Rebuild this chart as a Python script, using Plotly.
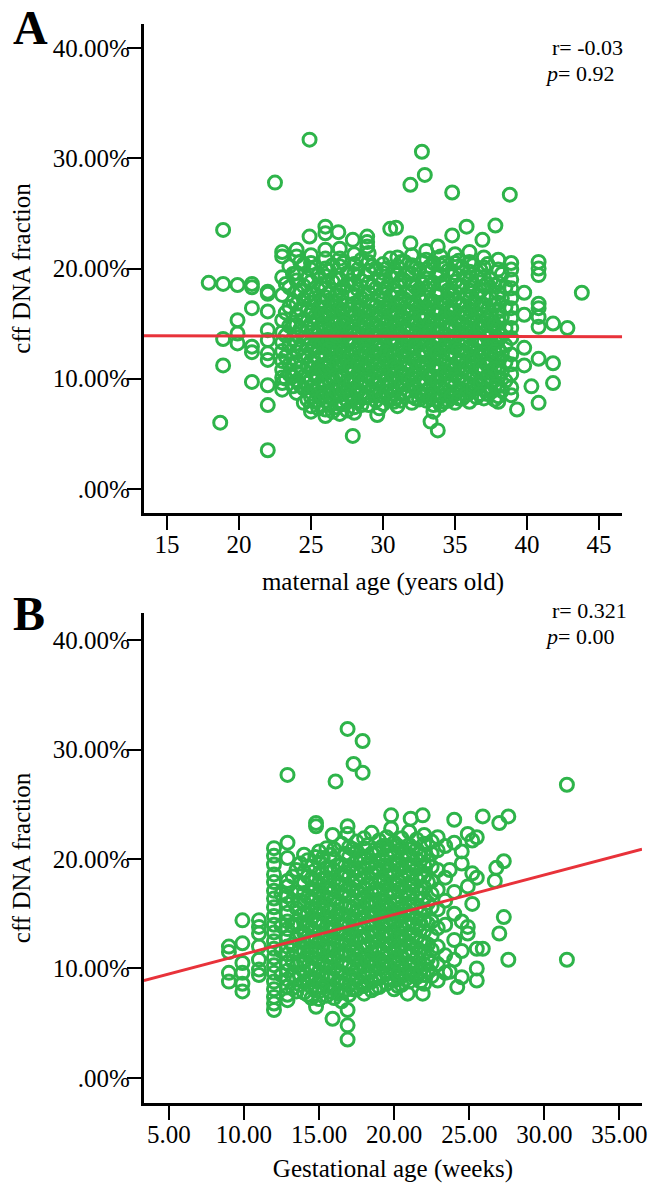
import plotly.graph_objects as go

# ---------------- Panel A: maternal age vs cff DNA fraction (%) ----------------
maternal_age = [17.9, 18.7, 18.9, 19.9, 20.9, 22.0, 22.5, 23.0, 23.5, 24.0, 24.5, 24.9, 25.0, 25.5,
                26.0, 26.5, 26.9, 27.0, 27.5, 27.9, 28.0, 28.5, 28.9, 29.0, 29.5, 29.6, 30.0, 30.5,
                30.9, 31.0, 31.5, 31.9, 32.0, 32.5, 32.7, 32.9, 33.0, 33.3, 33.5, 33.8, 34.0, 34.5,
                34.8, 35.0, 35.5, 35.8, 36.0, 36.5, 36.9, 37.0, 37.5, 37.8, 38.0, 38.5, 38.8, 38.9,
                39.3, 39.8, 40.3, 40.8, 41.8, 42.8, 43.8]
cff_at_age = [
    [18.7], [6.0], [23.5, 18.6, 13.6, 11.2], [18.5, 15.3, 14.1, 13.2],
    [18.6, 18.3, 16.4, 12.9, 12.4, 9.7],
    [17.9, 17.7, 16.1, 14.4, 13.5, 12.3, 11.7, 9.4, 7.6, 3.5],
    [27.8],
    [21.5, 21.1, 19.2, 17.6, 15.3, 14.2, 13.3, 12.5, 11.6, 10.8, 10.1, 9.6, 9.0],
    [20.2, 18.3, 16.5, 14.8, 13.0, 11.3, 10.4],
    [21.7, 21.1, 19.6, 18.9, 17.9, 16.8, 15.8, 14.9, 14.0, 13.2, 12.4, 11.5, 10.6, 9.8, 8.7],
    [20.4, 18.4, 17.2, 15.4, 13.7, 12.0, 10.2, 9.1, 7.8],
    [31.7, 22.9],
    [21.2, 20.5, 19.9, 18.8, 17.7, 16.9, 16.0, 15.0, 14.2, 13.3, 12.5, 11.6, 10.9, 10.0, 9.2, 8.3, 7.5, 7.0],
    [19.4, 18.1, 16.4, 15.3, 14.5, 13.6, 12.8, 11.9, 11.0, 10.2, 9.4, 8.6, 7.3],
    [23.8, 23.2, 21.7, 20.9, 20.0, 19.3, 18.2, 17.4, 16.5, 15.7, 14.8, 13.9, 13.1, 12.2, 11.3, 10.5, 9.6, 8.8, 8.0, 7.2, 6.6],
    [20.3, 18.8, 17.0, 16.1, 15.2, 14.4, 13.5, 12.6, 11.8, 10.9, 10.0, 9.1, 8.2, 7.0],
    [23.3],
    [21.8, 20.9, 20.2, 19.0, 18.0, 17.1, 16.3, 15.4, 14.6, 13.7, 12.9, 12.0, 11.1, 10.3, 9.4, 8.5, 7.7, 6.8],
    [19.6, 18.5, 16.7, 15.9, 15.0, 14.1, 13.3, 12.4, 11.5, 10.7, 9.8, 8.9, 8.0, 7.1],
    [22.6, 4.8],
    [21.3, 20.4, 19.5, 18.6, 17.6, 16.8, 15.9, 15.1, 14.2, 13.4, 12.6, 11.7, 10.8, 10.0, 9.1, 8.2, 7.4, 6.9],
    [20.8, 18.9, 17.3, 16.4, 15.6, 14.7, 13.8, 13.0, 12.1, 11.3, 10.4, 9.6, 8.7, 7.6],
    [22.9, 22.4, 22.0],
    [21.4, 20.6, 19.8, 18.7, 17.8, 17.0, 16.1, 15.3, 14.4, 13.6, 12.7, 11.9, 11.0, 10.2, 9.3, 8.4, 7.6],
    [20.0, 18.2, 16.6, 15.7, 14.9, 14.0, 13.2, 12.3, 11.4, 10.6, 9.7, 8.8, 8.0],
    [6.7],
    [20.4, 19.6, 18.8, 17.9, 17.1, 16.2, 15.4, 14.5, 13.7, 12.8, 12.0, 11.1, 10.3, 9.4, 8.5, 7.7],
    [23.6, 20.9, 19.2, 17.5, 16.6, 15.8, 14.9, 14.1, 13.2, 12.4, 11.5, 10.7, 9.8, 8.9, 8.1],
    [23.7],
    [21.0, 20.2, 19.4, 18.5, 17.7, 16.8, 16.0, 15.1, 14.3, 13.4, 12.6, 11.7, 10.9, 10.0, 9.2, 8.3, 7.5],
    [20.6, 18.9, 17.2, 16.4, 15.5, 14.7, 13.8, 13.0, 12.1, 11.3, 10.4, 9.5, 8.7],
    [27.6, 22.3],
    [21.2, 20.3, 19.5, 18.6, 17.8, 16.9, 16.1, 15.2, 14.4, 13.5, 12.7, 11.8, 11.0, 10.1, 9.3, 8.4, 7.8],
    [19.9, 18.1, 17.4, 16.5, 15.7, 14.8, 14.0, 13.1, 12.2, 11.4, 10.5, 9.7, 8.8, 8.1],
    [30.6], [28.5],
    [21.6, 20.8, 19.9, 19.1, 18.2, 17.4, 16.5, 15.7, 14.8, 14.0, 13.1, 12.3, 11.4, 10.6, 9.7, 8.9, 8.0],
    [6.1],
    [20.5, 18.7, 17.0, 16.2, 15.3, 14.5, 13.6, 12.8, 11.9, 11.1, 10.2, 9.4, 8.5, 7.6, 7.0],
    [22.0, 5.3],
    [21.1, 20.3, 19.4, 18.6, 17.7, 16.9, 16.0, 15.2, 14.3, 13.5, 12.6, 11.8, 10.9, 10.1, 9.2, 8.4, 7.6],
    [19.8, 18.0, 17.3, 16.4, 15.6, 14.7, 13.9, 13.0, 12.2, 11.3, 10.5, 9.6, 8.8, 8.0],
    [26.9, 23.0],
    [21.3, 20.5, 19.6, 18.8, 17.9, 17.1, 16.2, 15.4, 14.5, 13.7, 12.8, 12.0, 11.1, 10.3, 9.4, 8.6, 7.8],
    [20.1, 18.4, 16.7, 15.9, 15.0, 14.2, 13.3, 12.5, 11.6, 10.8, 9.9, 9.0, 8.2],
    [23.8],
    [21.5, 20.6, 19.7, 18.9, 18.0, 17.2, 16.3, 15.5, 14.6, 13.8, 12.9, 12.1, 11.2, 10.4, 9.5, 8.7, 7.9],
    [19.3, 17.6, 16.8, 15.9, 15.1, 14.2, 13.4, 12.5, 11.7, 10.8, 10.0, 9.1, 8.3],
    [22.6],
    [21.0, 20.1, 19.2, 18.4, 17.5, 16.7, 15.8, 15.0, 14.1, 13.3, 12.4, 11.6, 10.7, 9.9, 9.0, 8.2],
    [19.0, 17.3, 15.6, 14.8, 13.9, 13.1, 12.2, 11.4, 10.5, 9.7, 8.8],
    [23.9],
    [20.8, 19.9, 18.7, 17.8, 16.9, 16.1, 15.2, 14.4, 13.5, 12.7, 11.8, 11.0, 10.1, 9.3, 8.4, 7.9],
    [18.3, 16.5, 14.6, 13.0, 11.5, 9.8],
    [26.7],
    [20.5, 19.9, 19.0, 18.2, 17.3, 16.4, 15.5, 14.6, 13.7, 12.2, 11.3, 10.4, 9.2, 8.5],
    [7.2],
    [17.8, 15.8, 12.8, 11.2],
    [9.3],
    [20.6, 20.0, 19.4, 16.8, 16.4, 15.6, 14.7, 11.8, 7.8],
    [15.0, 11.4, 9.6],
    [14.6],
    [17.8],
]
# additional readings in the crowded core of panel A
maternal_age_core = [23.25, 23.75, 24.25, 24.75, 25.25, 25.75, 26.25, 26.75, 27.25, 27.75, 28.25, 28.75,
                     29.25, 29.75, 30.25, 30.75, 31.25, 31.75, 32.25, 32.75, 33.25, 33.75, 34.25, 34.75,
                     35.25, 35.75, 36.25, 36.75, 37.25, 37.75, 38.25]
cff_at_age_core = [
    [18.6, 16.0, 13.9, 12.0, 10.0],
    [19.5, 17.0, 15.1, 13.6, 11.9, 10.2, 9.3],
    [20.6, 18.0, 16.3, 14.5, 12.8, 11.0, 9.4],
    [19.1, 17.5, 16.2, 14.6, 13.0, 11.2, 9.6, 8.1],
    [20.1, 17.3, 15.6, 14.0, 12.9, 11.4, 10.4, 9.0, 7.9],
    [18.6, 17.0, 15.9, 14.9, 13.2, 12.2, 10.7, 9.7, 8.3],
    [19.8, 17.8, 16.0, 14.4, 13.5, 12.7, 11.1, 9.9, 8.5, 7.6],
    [19.1, 17.6, 16.6, 14.9, 13.9, 12.3, 11.4, 10.3, 8.8, 7.4],
    [20.5, 18.3, 16.2, 15.0, 13.8, 12.5, 11.5, 10.1, 9.0, 7.7],
    [18.9, 17.8, 16.3, 14.5, 13.6, 12.0, 11.1, 9.5, 8.4],
    [19.9, 18.1, 16.4, 15.5, 14.0, 12.9, 11.3, 10.4, 8.8, 7.9],
    [19.4, 17.6, 16.1, 15.1, 13.5, 12.5, 10.9, 9.9, 8.3],
    [20.2, 18.4, 16.7, 14.9, 13.9, 12.2, 11.5, 9.8, 8.9],
    [19.0, 17.4, 16.0, 14.3, 13.3, 12.6, 10.9, 10.0, 8.5, 7.3],
    [20.0, 18.3, 16.6, 15.0, 13.9, 12.4, 11.6, 9.9, 8.8],
    [19.6, 18.0, 16.2, 14.6, 13.6, 12.0, 11.1, 10.3, 8.6, 7.9],
    [20.6, 18.9, 17.2, 15.6, 14.0, 12.9, 12.0, 10.5, 9.5, 8.0],
    [19.5, 17.8, 16.0, 14.4, 13.3, 12.5, 11.2, 9.9, 8.9],
    [20.0, 18.3, 16.6, 15.0, 14.0, 12.9, 11.6, 10.4, 9.1, 8.2],
    [20.6, 18.6, 17.0, 15.3, 13.7, 12.6, 11.2, 10.0, 8.5],
    [20.2, 18.5, 16.8, 15.0, 14.3, 12.7, 11.7, 10.2, 9.2, 8.3],
    [19.4, 17.7, 16.0, 14.4, 13.2, 12.3, 11.0, 9.8, 8.0],
    [20.5, 18.8, 17.0, 15.5, 14.0, 12.9, 11.5, 10.5, 9.0, 7.9],
    [19.3, 17.6, 16.0, 14.9, 13.4, 12.4, 10.8, 9.9, 8.4],
    [20.7, 18.4, 16.8, 15.0, 14.0, 12.6, 11.6, 10.0, 9.0, 8.2],
    [19.2, 17.5, 16.0, 14.6, 13.5, 12.3, 11.0, 9.6, 8.5],
    [20.3, 18.5, 16.8, 15.2, 14.2, 12.7, 11.6, 10.2, 9.1],
    [19.9, 18.0, 16.4, 14.7, 13.6, 12.0, 11.1, 9.6, 8.6],
    [20.4, 18.6, 16.2, 15.3, 13.7, 12.8, 11.2, 10.1, 8.6],
    [18.5, 16.7, 14.9, 13.4, 12.5, 10.9, 9.3, 8.1],
    [19.5, 17.3, 15.6, 13.9, 12.3, 10.6, 8.9],
]
fit_a_x = [13.4, 46.6]
fit_a_y = [13.9, 13.8]

# ---------------- Panel B: gestational age vs cff DNA fraction (%) ----------------
gest_weeks = [9.0, 9.9, 11.0, 12.0, 12.5, 12.9, 13.5, 14.0, 14.5, 14.8, 15.0, 15.5, 15.9, 16.0, 16.1,
              16.5, 16.9, 17.0, 17.3, 17.5, 17.9, 18.0, 18.5, 19.0, 19.5, 19.8, 20.0, 20.5, 20.9,
              21.0, 21.1, 21.5, 21.9, 22.0, 22.5, 22.9, 23.4, 23.7, 24.0, 24.2, 24.5, 24.9, 25.2,
              25.5, 25.9, 26.7, 26.8, 27.0, 27.3, 27.6, 31.5]
cff_at_week = [
    [12.0, 11.5, 9.6, 8.8],
    [14.4, 12.3, 10.5, 9.6, 8.6, 7.9],
    [14.4, 13.8, 13.2, 12.0, 10.8, 9.9, 9.4],
    [21.0, 20.3, 19.5, 18.6, 17.9, 17.1, 16.4, 15.6, 14.8, 14.0, 13.3, 12.5, 11.8, 11.0, 10.3, 9.6, 8.8, 8.1, 7.4, 6.8, 6.2],
    [16.8, 13.9, 11.6, 9.4],
    [27.7, 21.5, 20.1, 18.0, 17.5, 16.6, 15.9, 15.1, 14.3, 13.6, 12.8, 12.0, 11.3, 10.5, 9.8, 9.0, 8.3, 7.6, 7.1],
    [19.0, 17.0, 15.5, 14.0, 12.7, 11.4, 10.2, 9.0, 7.9],
    [20.4, 18.8, 17.8, 16.9, 16.0, 15.1, 14.2, 13.3, 12.4, 11.5, 10.6, 9.7, 8.8, 7.8],
    [19.3, 18.2, 17.3, 16.4, 15.5, 14.6, 13.7, 12.8, 11.9, 11.0, 10.1, 9.2, 8.3, 7.3],
    [23.3, 23.0, 6.5],
    [20.7, 19.7, 18.7, 17.8, 16.9, 16.0, 15.1, 14.2, 13.3, 12.4, 11.5, 10.6, 9.7, 8.8, 7.9, 7.2],
    [21.0, 19.2, 18.3, 17.4, 16.5, 15.6, 14.7, 13.8, 12.9, 12.0, 11.1, 10.2, 9.3, 8.4, 7.5],
    [22.2, 5.4],
    [20.9, 20.0, 19.0, 18.1, 17.2, 16.3, 15.4, 14.5, 13.6, 12.7, 11.8, 10.9, 10.0, 9.1, 8.2, 7.3],
    [27.1],
    [21.4, 19.5, 18.6, 17.7, 16.8, 15.9, 15.0, 14.1, 13.2, 12.3, 11.4, 10.5, 9.6, 8.7, 7.8, 7.0],
    [31.9, 23.0, 22.3, 6.2, 4.8, 3.5],
    [21.1, 20.2, 19.3, 18.4, 17.5, 16.6, 15.7, 14.8, 13.9, 13.0, 12.1, 11.2, 10.3, 9.4, 8.5, 7.6],
    [28.7],
    [21.6, 20.7, 19.8, 18.9, 18.0, 17.1, 16.2, 15.3, 14.4, 13.5, 12.6, 11.7, 10.8, 9.9, 9.0, 8.1],
    [30.8, 27.9],
    [21.9, 21.0, 20.1, 19.2, 18.3, 17.4, 16.5, 15.6, 14.7, 13.8, 12.9, 12.0, 11.1, 10.2, 9.3, 8.4, 7.7],
    [22.4, 20.5, 19.6, 18.7, 17.8, 16.9, 16.0, 15.1, 14.2, 13.3, 12.4, 11.5, 10.6, 9.7, 8.8, 8.0],
    [21.7, 20.8, 19.9, 19.0, 18.1, 17.2, 16.3, 15.4, 14.5, 13.6, 12.7, 11.8, 10.9, 10.0, 9.1, 8.3],
    [22.0, 21.2, 20.3, 19.4, 18.5, 17.6, 16.7, 15.8, 14.9, 14.0, 13.1, 12.2, 11.3, 10.4, 9.5, 8.6],
    [24.0, 22.8],
    [21.5, 20.6, 19.7, 18.8, 17.9, 17.0, 16.1, 15.2, 14.3, 13.4, 12.5, 11.6, 10.7, 9.8, 8.9, 8.1],
    [21.9, 21.0, 20.1, 19.2, 18.3, 17.4, 16.5, 15.6, 14.7, 13.8, 12.9, 12.0, 11.1, 10.2, 9.3, 8.5],
    [7.7],
    [22.5, 21.3, 20.4, 19.5, 18.6, 17.7, 16.8, 15.9, 15.0, 14.1, 13.2, 12.3, 11.4, 10.5, 9.6, 8.8],
    [23.7],
    [21.8, 20.9, 20.0, 19.1, 18.2, 17.3, 16.4, 15.5, 14.6, 13.7, 12.8, 11.9, 11.0, 10.1, 9.2],
    [24.0, 7.7],
    [22.2, 21.4, 20.4, 19.4, 18.4, 17.4, 16.4, 15.4, 14.4, 13.4, 12.4, 11.4, 10.4, 9.4, 8.6],
    [21.6, 20.5, 19.3, 18.0, 16.8, 15.6, 14.3, 13.0, 11.7, 10.5, 9.3],
    [22.0, 20.8, 19.0, 17.2, 15.4, 13.7, 12.0, 10.4, 8.9],
    [21.2, 18.3, 16.2, 14.0, 11.2, 9.6],
    [19.0, 9.7],
    [23.6, 21.5, 17.0, 15.0, 12.6, 10.8],
    [8.3],
    [20.7, 19.6, 14.3, 11.6, 9.2],
    [22.3, 17.5, 13.8, 13.2],
    [21.7, 18.7, 15.9],
    [22.0, 18.3, 11.8, 10.0, 8.9],
    [23.9, 11.8],
    [18.0],
    [19.2],
    [23.3, 13.2],
    [19.8, 14.7],
    [23.9, 10.8],
    [26.8, 10.8],
]
# additional readings in the crowded core of panel B
gest_weeks_core = [13.25, 13.75, 14.25, 14.75, 15.25, 15.75, 16.25, 16.75, 17.25, 17.75, 18.25, 18.75,
                   19.25, 19.75, 20.25, 20.75, 21.25, 21.75, 22.25]
cff_at_week_core = [
    [18.4, 16.2, 13.9, 12.2, 10.6, 9.3, 8.2],
    [19.6, 17.8, 16.2, 14.8, 13.2, 11.9, 10.6, 9.4, 8.5],
    [19.9, 18.4, 16.5, 15.0, 13.9, 12.9, 11.4, 10.2, 9.0, 7.6],
    [20.2, 18.1, 16.6, 15.3, 14.3, 12.6, 11.5, 10.0, 8.9, 8.0],
    [20.1, 18.2, 16.5, 15.5, 14.0, 12.8, 11.9, 10.3, 9.1, 8.3],
    [20.4, 18.8, 16.9, 15.2, 14.1, 13.4, 11.7, 10.6, 9.5, 7.9],
    [19.4, 17.6, 16.0, 14.9, 13.2, 12.3, 11.2, 9.8, 8.7, 7.7],
    [20.5, 18.8, 17.1, 15.6, 14.4, 12.6, 11.6, 10.3, 8.9, 8.0],
    [20.9, 19.0, 17.2, 15.5, 14.3, 12.8, 11.7, 10.0, 9.1, 8.1],
    [20.2, 18.6, 16.8, 15.0, 13.9, 12.9, 11.3, 10.4, 8.6],
    [21.3, 19.6, 17.8, 16.1, 14.2, 13.1, 12.2, 10.7, 9.7, 8.7],
    [20.9, 19.2, 17.3, 15.8, 14.8, 13.0, 11.9, 10.3, 9.2, 8.2],
    [21.2, 19.4, 17.8, 16.0, 14.2, 13.2, 11.5, 10.6, 9.4],
    [20.8, 19.0, 17.2, 15.5, 14.6, 12.9, 12.0, 10.1, 9.0],
    [21.2, 19.4, 17.6, 16.0, 14.9, 13.0, 11.9, 10.4, 9.5, 8.4],
    [20.6, 18.9, 17.1, 15.4, 14.3, 12.6, 11.6, 9.9, 9.0],
    [21.0, 19.3, 17.5, 15.8, 14.0, 13.0, 11.4, 10.3, 9.4],
    [20.5, 18.6, 16.9, 15.0, 14.1, 12.5, 11.6, 9.7, 8.8],
    [19.8, 17.9, 16.0, 14.1, 12.2, 10.9, 9.9],
]
fit_b_x = [3.34, 36.5]
fit_b_y = [8.9, 20.9]

y_tickvals = [0, 10, 20, 30, 40]
y_ticktext = [".00%", "10.00%", "20.00%", "30.00%", "40.00%"]
xa_tickvals = [15, 20, 25, 30, 35, 40, 45]
xa_ticktext = ["15", "20", "25", "30", "35", "40", "45"]
xb_tickvals = [5, 10, 15, 20, 25, 30, 35]
xb_ticktext = ["5.00", "10.00", "15.00", "20.00", "25.00", "30.00", "35.00"]


def flatten(xs, ys):
    fx, fy = [], []
    for x, col in zip(xs, ys):
        for v in col:
            fx.append(x)
            fy.append(v)
    return fx, fy


ax1, ay1 = flatten(maternal_age, cff_at_age)
ax2, ay2 = flatten(maternal_age_core, cff_at_age_core)
bx1, by1 = flatten(gest_weeks, cff_at_week)
bx2, by2 = flatten(gest_weeks_core, cff_at_week_core)
ax, ay = ax1 + ax2, ay1 + ay2
bx, by = bx1 + bx2, by1 + by2

GREEN = "#2EB44A"
RED = "#E8323A"
FONT = "Liberation Serif, Times New Roman, serif"
W, H = 649, 1183
FS = 25

marker = dict(symbol="circle-open", size=13, color=GREEN, line=dict(width=3, color=GREEN))

fig = go.Figure()
fig.add_trace(go.Scatter(x=ax, y=ay, mode="markers", marker=marker, xaxis="x", yaxis="y"))
fig.add_trace(go.Scatter(x=fit_a_x, y=fit_a_y, mode="lines", line=dict(color=RED, width=3), xaxis="x", yaxis="y"))
fig.add_trace(go.Scatter(x=bx, y=by, mode="markers", marker=marker, xaxis="x2", yaxis="y2"))
fig.add_trace(go.Scatter(x=fit_b_x, y=fit_b_y, mode="lines", line=dict(color=RED, width=3), xaxis="x2", yaxis="y2"))

axis_common = dict(showline=True, linewidth=3, linecolor="black", ticks="outside", ticklen=14,
                   tickwidth=2, tickcolor="black", showgrid=False, zeroline=False,
                   ticklabeloverflow="allow",
                   tickfont=dict(family=FONT, size=FS, color="black"))

fig.update_layout(
    width=W, height=H, margin=dict(l=0, r=0, t=0, b=0),
    paper_bgcolor="white", plot_bgcolor="white", showlegend=False,
    font=dict(family=FONT, color="black"),
    xaxis=dict(domain=[145 / W, 627 / W], range=[13.4, 46.6], anchor="y",
               tickvals=xa_tickvals, ticktext=xa_ticktext, ticklabelstandoff=-7,
               title=dict(text="maternal age (years old)", font=dict(family=FONT, size=FS), standoff=16),
               **axis_common),
    yaxis=dict(domain=[1 - 513 / H, 1 - 24 / H], range=[-2.2, 42.2], anchor="x",
               tickvals=y_tickvals, ticktext=y_ticktext, ticklabelstandoff=-8,
               title=dict(text="cff DNA fraction", font=dict(family=FONT, size=FS), standoff=16),
               **axis_common),
    xaxis2=dict(domain=[145 / W, 647 / W], range=[3.34, 36.5], anchor="y2",
                tickvals=xb_tickvals, ticktext=xb_ticktext, ticklabelstandoff=-7,
                title=dict(text="Gestational age (weeks)", font=dict(family=FONT, size=FS), standoff=16),
                **axis_common),
    yaxis2=dict(domain=[1 - 1103 / H, 1 - 613 / H], range=[-2.3, 42.5], anchor="x2",
                tickvals=y_tickvals, ticktext=y_ticktext, ticklabelstandoff=-8,
                title=dict(text="cff DNA fraction", font=dict(family=FONT, size=FS), standoff=16),
                **axis_common),
)

annots = [
    dict(text="<b>A</b>", x=12 / W, y=1 - 27 / H, xanchor="left", yanchor="middle", font=dict(size=48)),
    dict(text="<b>B</b>", x=12 / W, y=1 - 613 / H, xanchor="left", yanchor="middle", font=dict(size=48)),
    dict(text="r= -0.03", x=555 / W, y=1 - 47 / H, xanchor="left", yanchor="middle", font=dict(size=22)),
    dict(text="<i>p</i>= 0.92", x=548 / W, y=1 - 73 / H, xanchor="left", yanchor="middle", font=dict(size=22)),
    dict(text="r= 0.321", x=555 / W, y=1 - 610 / H, xanchor="left", yanchor="middle", font=dict(size=22)),
    dict(text="<i>p</i>= 0.00", x=548 / W, y=1 - 636 / H, xanchor="left", yanchor="middle", font=dict(size=22)),
]
for a in annots:
    a.update(xref="paper", yref="paper", showarrow=False, borderpad=0)
    a["font"] = dict(family=FONT, color="black", **a["font"])
    fig.add_annotation(**a)

fig.write_html("out.html")
